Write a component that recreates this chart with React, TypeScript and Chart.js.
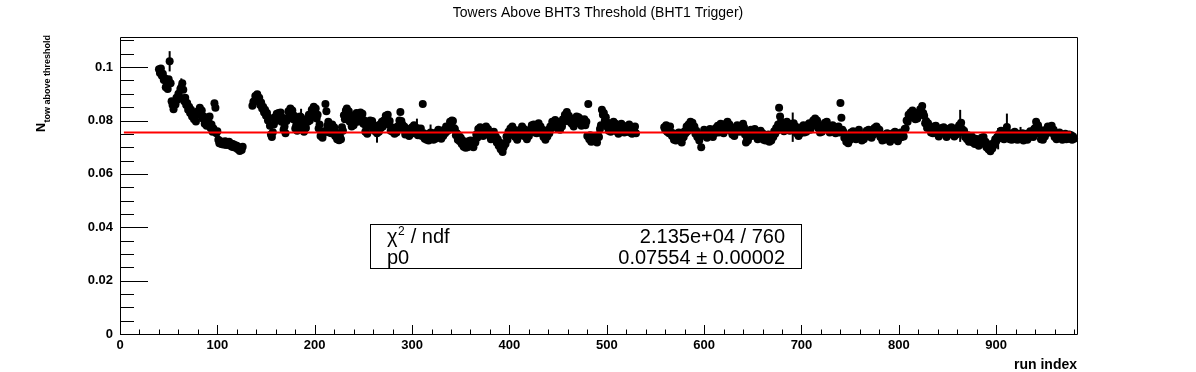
import { useEffect, useRef } from "react";
import { Chart, registerables } from "chart.js";

Chart.register(...registerables);

const FONT = '"Liberation Sans", Arial, Helvetica, sans-serif';

const titleText = "Towers Above BHT3 Threshold (BHT1 Trigger)";
const xAxisTitle = "run index";
const yAxisMain = "N";
const yAxisSub = "tow above threshold";

const xMin = 0;
const xMax = 983;
const yMin = 0;
const yMax = 0.1113;
const xTickValues = [0, 100, 200, 300, 400, 500, 600, 700, 800, 900];
const xTickLabels = ["0", "100", "200", "300", "400", "500", "600", "700", "800", "900"];
const yTickValues = [0, 0.02, 0.04, 0.06, 0.08, 0.1];
const yTickLabels = ["0", "0.02", "0.04", "0.06", "0.08", "0.1"];
const xMinorStep = 20;
const yMinorStep = 0.005;

// run index segments (consecutive indices) and the measured N values
const segAStart = 40;
const segAValues = [
  0.0992, 0.0978, 0.0995, 0.0968, 0.0975, 0.0952, 0.0958, 0.0925, 0.0940, 0.0918,
  0.0955, 0.1022, 0.0940, 0.0872, 0.0858, 0.0842, 0.0868, 0.0860, 0.0885, 0.0878,
  0.0900, 0.0888, 0.0918, 0.0925, 0.0940, 0.0915, 0.0872, 0.0885, 0.0858, 0.0866,
  0.0840, 0.0852, 0.0828, 0.0840, 0.0815, 0.0828, 0.0805, 0.0818, 0.0796, 0.0822,
  0.0835, 0.0822, 0.0848, 0.0830, 0.0838, 0.0808, 0.0815, 0.0788, 0.0800, 0.0780,
  0.0808, 0.0795, 0.0815, 0.0772, 0.0785, 0.0758, 0.0770, 0.0865, 0.0848, 0.0752,
  0.0760, 0.0728, 0.0715, 0.0722, 0.0712, 0.0720, 0.0710, 0.0718, 0.0722, 0.0708,
  0.0716, 0.0710, 0.0720, 0.0706, 0.0714, 0.0702, 0.0712, 0.0700, 0.0708, 0.0698,
  0.0705, 0.0692, 0.0700, 0.0686, 0.0695, 0.0690, 0.0702,
];

const segBStart = 136;
const segBValues = [
  0.0855, 0.0870, 0.0872, 0.0892, 0.0880, 0.0898, 0.0875, 0.0885, 0.0858, 0.0868,
  0.0845, 0.0852, 0.0830, 0.0840, 0.0818, 0.0828, 0.0800, 0.0810, 0.0780, 0.0748,
  0.0738, 0.0756, 0.0785, 0.0812, 0.0798, 0.0825, 0.0808, 0.0828, 0.0815, 0.0830,
  0.0795, 0.0810, 0.0765, 0.0778, 0.0752, 0.0798, 0.0808, 0.0835, 0.0822, 0.0845,
  0.0828, 0.0838, 0.0805, 0.0818, 0.0770, 0.0782, 0.0762, 0.0800, 0.0790, 0.0815,
  0.0812, 0.0778, 0.0790, 0.0758, 0.0780, 0.0772, 0.0805, 0.0795, 0.0822, 0.0800,
  0.0818, 0.0840, 0.0828, 0.0852, 0.0838, 0.0845, 0.0808, 0.0822, 0.0770, 0.0785,
  0.0742, 0.0755, 0.0735, 0.0752, 0.0760, 0.0862, 0.0835, 0.0780, 0.0795, 0.0755,
  0.0768, 0.0752, 0.0785, 0.0765, 0.0775, 0.0742, 0.0755, 0.0730, 0.0745, 0.0726,
  0.0740, 0.0730, 0.0775, 0.0762, 0.0820, 0.0805, 0.0838, 0.0845, 0.0822, 0.0835,
  0.0795, 0.0810, 0.0778, 0.0792, 0.0782, 0.0820, 0.0808, 0.0828, 0.0795, 0.0808,
  0.0805, 0.0830, 0.0815, 0.0825, 0.0788, 0.0800, 0.0758, 0.0775, 0.0750, 0.0785,
  0.0780, 0.0800, 0.0785, 0.0798, 0.0765, 0.0778, 0.0760, 0.0780, 0.0752, 0.0770,
  0.0758, 0.0785, 0.0772, 0.0795, 0.0778, 0.0800, 0.0790, 0.0818, 0.0808, 0.0822,
  0.0785, 0.0798, 0.0762, 0.0775, 0.0758, 0.0772, 0.0750, 0.0768, 0.0755, 0.0778,
  0.0768, 0.0800, 0.0832, 0.0798, 0.0785, 0.0765, 0.0778, 0.0748, 0.0770, 0.0752,
  0.0765, 0.0742, 0.0760, 0.0750, 0.0775, 0.0765, 0.0782, 0.0752, 0.0768, 0.0772,
  0.0745, 0.0765, 0.0755, 0.0770, 0.0742, 0.0862, 0.0752, 0.0732, 0.0748, 0.0728,
  0.0740, 0.0725, 0.0750, 0.0755, 0.0740, 0.0752, 0.0728, 0.0742, 0.0732, 0.0755,
  0.0748, 0.0765, 0.0745, 0.0758, 0.0732, 0.0750, 0.0742, 0.0765, 0.0752, 0.0778,
  0.0760, 0.0775, 0.0765, 0.0795, 0.0780, 0.0800, 0.0798, 0.0772, 0.0768, 0.0745,
  0.0752, 0.0728, 0.0745, 0.0722, 0.0735, 0.0712, 0.0725, 0.0702, 0.0718, 0.0698,
  0.0710, 0.0700, 0.0722, 0.0708, 0.0725, 0.0705, 0.0715, 0.0700, 0.0725, 0.0718,
  0.0748, 0.0735, 0.0768, 0.0755, 0.0775, 0.0752, 0.0765, 0.0742, 0.0762, 0.0758,
  0.0778, 0.0760, 0.0768, 0.0745, 0.0752, 0.0730, 0.0750, 0.0742, 0.0758, 0.0732,
  0.0740, 0.0718, 0.0730, 0.0705, 0.0718, 0.0692, 0.0705, 0.0682, 0.0700, 0.0715,
  0.0712, 0.0740, 0.0728, 0.0758, 0.0745, 0.0770, 0.0758, 0.0778, 0.0752, 0.0765,
  0.0738, 0.0750, 0.0728, 0.0748, 0.0742, 0.0765, 0.0755, 0.0778, 0.0758, 0.0768,
  0.0740, 0.0755, 0.0730, 0.0752, 0.0742, 0.0765, 0.0760, 0.0782, 0.0770, 0.0785,
  0.0755, 0.0768, 0.0752, 0.0780, 0.0790, 0.0772, 0.0778, 0.0752, 0.0765, 0.0738,
  0.0750, 0.0728, 0.0745, 0.0740, 0.0765, 0.0752, 0.0778, 0.0770, 0.0795, 0.0780,
  0.0792, 0.0802, 0.0788, 0.0795, 0.0768, 0.0780, 0.0765, 0.0788, 0.0778, 0.0805,
  0.0795, 0.0822, 0.0808, 0.0832, 0.0812, 0.0818, 0.0795, 0.0808, 0.0788, 0.0800,
  0.0778, 0.0798, 0.0790, 0.0815, 0.0800, 0.0812, 0.0790, 0.0805, 0.0780, 0.0800,
  0.0792, 0.0805, 0.0782, 0.0795, 0.0742, 0.0862, 0.0730, 0.0745, 0.0720, 0.0735,
  0.0722, 0.0740, 0.0728, 0.0742, 0.0718, 0.0745, 0.0738, 0.0768, 0.0782, 0.0840,
  0.0822, 0.0828, 0.0800, 0.0812, 0.0778, 0.0792, 0.0762, 0.0778, 0.0758, 0.0782,
  0.0772, 0.0795, 0.0775, 0.0788, 0.0760, 0.0772, 0.0750, 0.0770, 0.0765, 0.0788,
  0.0768, 0.0780, 0.0755, 0.0768, 0.0758, 0.0778, 0.0770, 0.0785, 0.0755, 0.0765,
  0.0750, 0.0772, 0.0765, 0.0778, 0.0752,
];

const segCStart = 559;
const segCValues = [
  0.0775, 0.0765, 0.0782, 0.0758, 0.0770, 0.0752, 0.0778, 0.0755, 0.0742, 0.0752,
  0.0728, 0.0742, 0.0725, 0.0750, 0.0740, 0.0755, 0.0728, 0.0738, 0.0718, 0.0735,
  0.0738, 0.0760, 0.0752, 0.0778, 0.0760, 0.0785, 0.0770, 0.0795, 0.0785, 0.0792,
  0.0765, 0.0778, 0.0750, 0.0762, 0.0738, 0.0750, 0.0725, 0.0738, 0.0700, 0.0745,
  0.0748, 0.0765, 0.0745, 0.0758, 0.0735, 0.0755, 0.0748, 0.0768, 0.0745, 0.0760,
  0.0738, 0.0758, 0.0752, 0.0772, 0.0762, 0.0780, 0.0755, 0.0772, 0.0788, 0.0770,
  0.0778, 0.0752, 0.0772, 0.0765, 0.0790, 0.0795, 0.0778, 0.0785, 0.0762, 0.0775,
  0.0748, 0.0760, 0.0742, 0.0768, 0.0758, 0.0782, 0.0760, 0.0772, 0.0758, 0.0780,
  0.0770, 0.0788, 0.0775, 0.0748, 0.0718, 0.0735, 0.0725, 0.0758, 0.0748, 0.0765,
  0.0742, 0.0760, 0.0752, 0.0768, 0.0745, 0.0755, 0.0730, 0.0748, 0.0740, 0.0762,
  0.0740, 0.0752, 0.0728, 0.0742, 0.0725, 0.0745, 0.0735, 0.0748, 0.0720, 0.0732,
  0.0725, 0.0745, 0.0738, 0.0760, 0.0750, 0.0772, 0.0762, 0.0785, 0.0848, 0.0815,
  0.0795, 0.0775, 0.0788, 0.0760, 0.0782, 0.0778, 0.0795, 0.0775, 0.0788, 0.0762,
  0.0780, 0.0772, 0.0775, 0.0790, 0.0768, 0.0778, 0.0752, 0.0768, 0.0742, 0.0758,
  0.0752, 0.0775, 0.0765, 0.0782, 0.0755, 0.0768, 0.0758, 0.0782, 0.0775, 0.0790,
  0.0765, 0.0785, 0.0780, 0.0800, 0.0792, 0.0808, 0.0790, 0.0800, 0.0772, 0.0782,
  0.0755, 0.0768, 0.0758, 0.0778, 0.0770, 0.0792, 0.0782, 0.0795, 0.0768, 0.0778,
  0.0755, 0.0775, 0.0770, 0.0782, 0.0758, 0.0770, 0.0752, 0.0775, 0.0765, 0.0778,
  0.0755, 0.0866, 0.0810, 0.0765, 0.0758, 0.0735, 0.0745, 0.0720, 0.0730, 0.0715,
  0.0738, 0.0728, 0.0755, 0.0745, 0.0760, 0.0735, 0.0748, 0.0730, 0.0755, 0.0750,
  0.0765, 0.0740, 0.0748, 0.0725, 0.0740, 0.0730, 0.0750, 0.0740, 0.0762, 0.0752,
  0.0765, 0.0740, 0.0750, 0.0735, 0.0758, 0.0748, 0.0772, 0.0760, 0.0778, 0.0770,
  0.0752, 0.0765, 0.0738, 0.0748, 0.0725, 0.0740, 0.0728, 0.0748, 0.0738, 0.0752,
  0.0730, 0.0742, 0.0720, 0.0738, 0.0732, 0.0752, 0.0745, 0.0758, 0.0730, 0.0742,
  0.0722, 0.0740, 0.0735, 0.0755, 0.0738, 0.0748, 0.0740, 0.0768, 0.0770, 0.0800,
  0.0795, 0.0822, 0.0810, 0.0830, 0.0812, 0.0838, 0.0820, 0.0828, 0.0805, 0.0818,
  0.0808, 0.0830, 0.0822, 0.0842, 0.0835, 0.0854, 0.0828, 0.0818, 0.0790, 0.0798,
  0.0772, 0.0790, 0.0775, 0.0778, 0.0755, 0.0768, 0.0752, 0.0778, 0.0768, 0.0780,
  0.0752, 0.0765, 0.0740, 0.0758, 0.0750, 0.0772, 0.0762, 0.0775, 0.0750, 0.0762,
  0.0738, 0.0755, 0.0748, 0.0770, 0.0758, 0.0775, 0.0752, 0.0760, 0.0740, 0.0758,
  0.0748, 0.0772, 0.0765, 0.0782, 0.0780, 0.0792, 0.0768, 0.0755, 0.0762, 0.0738,
  0.0742, 0.0730, 0.0745, 0.0720, 0.0738, 0.0728, 0.0740, 0.0718, 0.0730, 0.0712,
  0.0732, 0.0715, 0.0725, 0.0705, 0.0722, 0.0715, 0.0735, 0.0725, 0.0738, 0.0712,
  0.0720, 0.0700, 0.0712, 0.0692, 0.0705, 0.0685, 0.0700, 0.0695, 0.0715, 0.0708,
  0.0730, 0.0722, 0.0738, 0.0732, 0.0750, 0.0740, 0.0762, 0.0745, 0.0752, 0.0730,
  0.0755, 0.0742, 0.0776, 0.0755, 0.0745, 0.0730, 0.0742, 0.0728, 0.0752, 0.0740,
  0.0758, 0.0730, 0.0745, 0.0728, 0.0750, 0.0740, 0.0748, 0.0735, 0.0752, 0.0725,
  0.0745, 0.0732, 0.0750, 0.0728, 0.0748, 0.0738, 0.0760, 0.0742, 0.0755, 0.0738,
  0.0768, 0.0772, 0.0795, 0.0778, 0.0782, 0.0750, 0.0765, 0.0730, 0.0745, 0.0728,
  0.0752, 0.0740, 0.0765, 0.0752, 0.0778, 0.0762, 0.0775, 0.0765, 0.0780, 0.0752,
  0.0765, 0.0738, 0.0752, 0.0730, 0.0748, 0.0738, 0.0755, 0.0735, 0.0748, 0.0728,
  0.0745, 0.0735, 0.0750, 0.0730, 0.0742, 0.0732, 0.0748, 0.0735, 0.0745, 0.0728,
  0.0740, 0.0732,
];

// points whose error bar sticks out of the marker
const errRunIndex = [51, 63, 186, 264, 305, 319, 421, 691, 863, 902, 911, 925];
const errValues = [0.0038, 0.0033, 0.0032, 0.0035, 0.0035, 0.003, 0.0028, 0.0055, 0.006, 0.004, 0.005, 0.0028];
const defaultErr = 0.0007;

const fitValue = 0.07554;
const fitRange = [4, 977];

const statsLabels = ["ndf", "p0"];
const statsValues = ["2.135e+04 / 760", "0.07554 \u00b1 0.00002"];

function buildPoints() {
  const segs: [number, number[]][] = [
    [segAStart, segAValues],
    [segBStart, segBValues],
    [segCStart, segCValues],
  ];
  const pts: { x: number; y: number }[] = [];
  for (const [start, vals] of segs) vals.forEach((v, k) => pts.push({ x: start + k, y: v }));
  return pts;
}

const rootDecor = {
  id: "rootDecor",
  beforeDatasetsDraw(chart: any) {
    const ctx = chart.ctx;
    const xs = chart.scales.x;
    const ys = chart.scales.y;
    const pts = chart.data.datasets[1].data as { x: number; y: number }[];
    ctx.save();
    ctx.strokeStyle = "#000";
    ctx.lineWidth = 2;
    for (const p of pts) {
      const k = errRunIndex.indexOf(p.x);
      const e = k >= 0 ? errValues[k] : defaultErr;
      const px = xs.getPixelForValue(p.x);
      ctx.beginPath();
      ctx.moveTo(px, ys.getPixelForValue(p.y - e));
      ctx.lineTo(px, ys.getPixelForValue(p.y + e));
      ctx.stroke();
    }
    ctx.restore();
  },
  afterDraw(chart: any) {
    const ctx = chart.ctx;
    const { left, right, top, bottom } = chart.chartArea;
    const xs = chart.scales.x;
    const ys = chart.scales.y;
    ctx.save();
    // frame
    ctx.strokeStyle = "#000";
    ctx.lineWidth = 1;
    ctx.beginPath();
    ctx.rect(Math.round(left) + 0.5, Math.round(top) + 0.5, Math.round(right - left), Math.round(bottom - top));
    ctx.stroke();
    // y ticks (inside)
    ctx.beginPath();
    for (let v = yMin; v <= yMax + 1e-9; v += yMinorStep) {
      const py = Math.round(ys.getPixelForValue(v)) + 0.5;
      const major = yTickValues.some((t) => Math.abs(t - v) < 1e-6);
      ctx.moveTo(left, py);
      ctx.lineTo(left + (major ? 28 : 14), py);
    }
    // x ticks (inside)
    for (let v = xMin; v <= xMax; v += xMinorStep) {
      const px = Math.round(xs.getPixelForValue(v)) + 0.5;
      const major = xTickValues.indexOf(v) >= 0;
      ctx.moveTo(px, bottom);
      ctx.lineTo(px, bottom - (major ? 9 : 4.5));
    }
    ctx.stroke();

    // title
    ctx.fillStyle = "#000";
    ctx.font = `14px ${FONT}`;
    ctx.textAlign = "center";
    ctx.textBaseline = "alphabetic";
    ctx.fillText(titleText, chart.width / 2, 17);

    // x axis title
    ctx.font = `bold 14px ${FONT}`;
    ctx.textAlign = "right";
    ctx.fillText(xAxisTitle, right, 369);

    // y axis title (rotated)
    ctx.save();
    ctx.translate(45, 132);
    ctx.rotate(-Math.PI / 2);
    ctx.textAlign = "left";
    ctx.font = `bold 12.5px ${FONT}`;
    ctx.fillText(yAxisMain, 0, 0);
    const nw = ctx.measureText(yAxisMain).width;
    ctx.font = `bold 9px ${FONT}`;
    ctx.fillText(yAxisSub, nw + 0.5, 4.5);
    ctx.restore();

    // stats box
    const bx = 370, by = 224, bw = 431, bh = 44;
    ctx.fillStyle = "#fff";
    ctx.fillRect(bx, by, bw, bh);
    ctx.strokeStyle = "#000";
    ctx.lineWidth = 1;
    ctx.strokeRect(bx + 0.5, by + 0.5, bw, bh);
    ctx.fillStyle = "#000";
    ctx.font = `20px ${FONT}`;
    ctx.textAlign = "left";
    const row1 = by + 18.5;
    const row2 = by + 40;
    // chi^2 / ndf
    ctx.fillText("\u03c7", bx + 17, row1);
    const cw = ctx.measureText("\u03c7").width;
    ctx.font = `12px ${FONT}`;
    ctx.fillText("2", bx + 17 + cw + 0.5, row1 - 8);
    const sw = ctx.measureText("2").width;
    ctx.font = `20px ${FONT}`;
    ctx.fillText(" / " + statsLabels[0], bx + 17 + cw + sw + 1, row1);
    ctx.fillText(statsLabels[1], bx + 17, row2);
    ctx.textAlign = "right";
    ctx.fillText(statsValues[0], bx + bw - 16, row1);
    ctx.fillText(statsValues[1], bx + bw - 16, row2);
    ctx.restore();
  },
};

export default function App() {
  const ref = useRef<HTMLCanvasElement | null>(null);
  useEffect(() => {
    document.body.style.margin = "0";
    const canvas = ref.current;
    if (!canvas) return;
    const tickFont = { family: FONT, size: 13, weight: "bold" as const };
    const chart = new Chart(canvas, {
      type: "scatter",
      data: {
        datasets: [
          {
            label: "fit",
            data: fitRange.map((x) => ({ x, y: fitValue })),
            showLine: true,
            borderColor: "#ff0000",
            borderWidth: 2,
            pointRadius: 0,
            fill: false,
          },
          {
            label: "runs",
            data: buildPoints(),
            pointRadius: 4,
            pointBorderWidth: 0,
            pointBackgroundColor: "#000",
            borderColor: "#000",
            showLine: false,
            clip: false as any,
          },
        ],
      },
      options: {
        animation: false,
        responsive: false,
        devicePixelRatio: 1,
        events: [],
        layout: { padding: { left: 0, top: 37, right: 119, bottom: 0 } },
        plugins: { legend: { display: false }, tooltip: { enabled: false }, title: { display: false } },
        scales: {
          x: {
            type: "linear",
            min: xMin,
            max: xMax,
            afterBuildTicks: (s: any) => {
              s.ticks = xTickValues.map((v) => ({ value: v }));
            },
            afterFit: (s: any) => {
              s.height = 38;
            },
            ticks: {
              font: tickFont,
              color: "#000",
              padding: 4,
              maxRotation: 0,
              autoSkip: false,
              callback: (_v: any, i: number) => xTickLabels[i],
            },
            grid: { display: false, drawTicks: false, tickLength: 0 },
            border: { display: false },
          },
          y: {
            type: "linear",
            min: yMin,
            max: yMax,
            afterBuildTicks: (s: any) => {
              s.ticks = yTickValues.map((v) => ({ value: v }));
            },
            afterFit: (s: any) => {
              s.width = 120;
            },
            ticks: {
              font: tickFont,
              color: "#000",
              padding: 7,
              autoSkip: false,
              callback: (_v: any, i: number) => yTickLabels[i],
            },
            grid: { display: false, drawTicks: false, tickLength: 0 },
            border: { display: false },
          },
        },
      },
      plugins: [rootDecor],
    });
    return () => chart.destroy();
  }, []);
  return (
    <div style={{ position: "absolute", left: 0, top: 0, width: 1196, height: 372 }}>
      <canvas ref={ref} width={1196} height={372} />
    </div>
  );
}
